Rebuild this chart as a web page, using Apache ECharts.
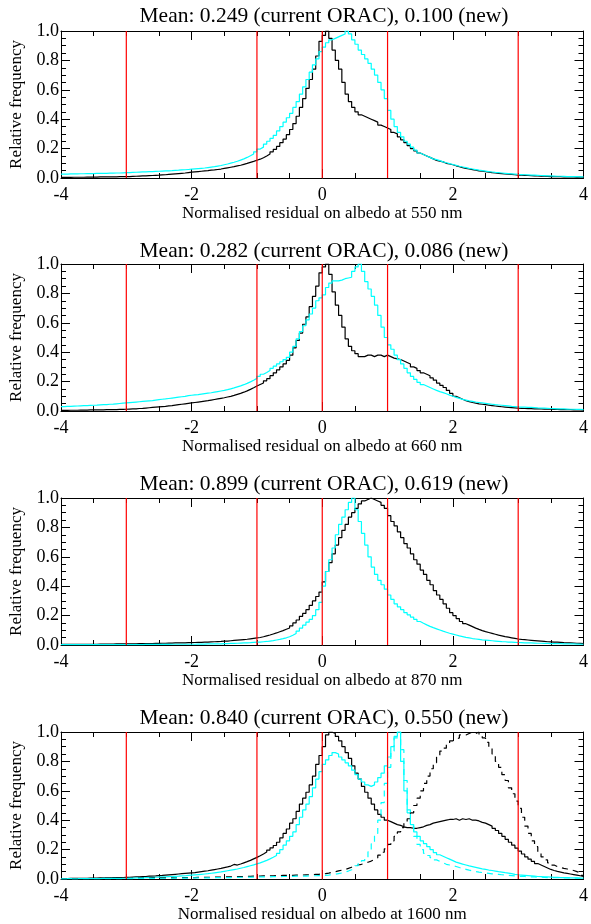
<!DOCTYPE html>
<html>
<head>
<meta charset="utf-8">
<script src="https://cdn.jsdelivr.net/npm/echarts@6/dist/echarts.min.js"></script>
<style>
  html, body { margin: 0; background: #fff; }
  #chart { width: 591px; height: 924px; }
</style>
</head>
<body>
<div id="chart"></div>
<script>
// histogram bins: 160 bins of 0.05 from -4 to 4
var binLo = -4, binW = 0.05;
var refLines = [-3, -1, 0, 1, 3];
var wavelengths = [550, 660, 870, 1600];
var meanCur = ['0.249', '0.282', '0.899', '0.840'];
var meanNew = ['0.100', '0.086', '0.619', '0.550'];

// 550 nm
var cur550 = [
  0.004,0.004,0.004,0.005,0.005,0.005,0.005,0.006,0.006,0.006,0.006,0.007,0.007,0.007,0.008,0.008,0.008,0.009,0.009,0.010,
  0.010,0.011,0.012,0.013,0.014,0.015,0.016,0.017,0.018,0.019,0.021,0.022,0.024,0.026,0.028,0.030,0.032,0.034,0.037,0.040,
  0.042,0.044,0.046,0.048,0.050,0.053,0.055,0.058,0.061,0.065,0.069,0.073,0.077,0.082,0.087,0.093,0.099,0.106,0.113,0.121,
  0.128,0.138,0.150,0.163,0.178,0.195,0.215,0.240,0.265,0.295,
  0.33,0.37,0.42,0.48,0.54,0.61,0.67,0.74,0.83,0.93,
  0.97,1.00,0.95,0.87,0.80,0.74,0.65,0.57,0.52,0.48,
  0.45,0.43,0.42,0.41,0.40,0.39,0.38,0.36,0.35,0.34,
  0.33,0.31,0.30,0.28,0.26,0.24,0.22,0.20,0.185,0.17,
  0.16,0.15,0.14,0.13,0.12,0.115,0.11,0.10,0.095,0.09,
  0.083,0.077,0.071,0.066,0.061,0.057,0.053,0.049,0.046,0.043,
  0.040,0.037,0.035,0.032,0.030,0.028,0.026,0.024,0.022,0.020,
  0.019,0.018,0.017,0.016,0.015,0.014,0.013,0.012,0.011,0.010,
  0.010,0.009,0.009,0.008,0.008,0.007,0.007,0.006,0.006,0.005
];
var new550 = [
  0.027,0.027,0.028,0.028,0.028,0.029,0.029,0.030,0.030,0.030,0.031,0.031,0.032,0.032,0.033,0.033,0.034,0.034,0.035,0.036,
  0.037,0.038,0.039,0.040,0.041,0.042,0.043,0.044,0.045,0.046,0.047,0.048,0.049,0.050,0.052,0.053,0.055,0.056,0.058,0.060,
  0.062,0.064,0.066,0.068,0.071,0.074,0.077,0.081,0.085,0.090,0.095,0.101,0.107,0.114,0.122,0.130,0.140,0.151,0.163,0.178,
  0.197,0.21,0.23,0.25,0.27,0.29,0.32,0.35,0.38,0.41,
  0.44,0.48,0.52,0.57,0.62,0.67,0.72,0.77,0.81,0.86,
  0.89,0.92,0.94,0.95,0.96,0.97,0.98,1.00,0.98,0.94,
  0.91,0.87,0.84,0.81,0.78,0.74,0.70,0.65,0.60,0.54,
  0.46,0.40,0.35,0.31,0.28,0.25,0.23,0.21,0.19,0.17,
  0.16,0.15,0.14,0.13,0.125,0.118,0.11,0.104,0.098,0.092,
  0.086,0.080,0.075,0.070,0.065,0.061,0.057,0.053,0.050,0.047,
  0.044,0.041,0.038,0.036,0.034,0.032,0.030,0.028,0.026,0.024,
  0.023,0.022,0.021,0.020,0.019,0.018,0.017,0.016,0.015,0.014,
  0.013,0.012,0.012,0.011,0.010,0.010,0.009,0.009,0.008,0.008
];

// 660 nm
var cur660 = [
  0.004,0.004,0.005,0.005,0.005,0.006,0.006,0.006,0.007,0.007,0.007,0.008,0.008,0.009,0.009,0.010,0.010,0.011,0.011,0.012,
  0.013,0.014,0.015,0.017,0.018,0.020,0.022,0.024,0.026,0.028,0.030,0.032,0.035,0.037,0.040,0.043,0.046,0.049,0.052,0.055,
  0.058,0.061,0.064,0.067,0.070,0.074,0.078,0.082,0.086,0.090,0.095,0.100,0.106,0.113,0.120,0.128,0.137,0.147,0.158,0.170,
  0.18,0.19,0.205,0.22,0.24,0.26,0.28,0.30,0.32,0.345,
  0.38,0.43,0.48,0.53,0.59,0.64,0.71,0.78,0.85,0.94,
  0.98,1.00,0.93,0.81,0.72,0.65,0.57,0.49,0.44,0.41,
  0.39,0.37,0.37,0.38,0.38,0.37,0.38,0.38,0.37,0.38,
  0.37,0.36,0.355,0.35,0.34,0.33,0.32,0.30,0.29,0.275,
  0.26,0.25,0.24,0.225,0.21,0.19,0.175,0.16,0.14,0.12,
  0.10,0.09,0.08,0.07,0.064,0.058,0.053,0.049,0.046,0.043,
  0.040,0.037,0.034,0.031,0.029,0.027,0.025,0.023,0.021,0.019,
  0.018,0.017,0.016,0.016,0.015,0.014,0.014,0.013,0.013,0.012,
  0.011,0.011,0.010,0.010,0.009,0.009,0.008,0.008,0.007,0.006
];
var new660 = [
  0.030,0.031,0.032,0.033,0.034,0.035,0.036,0.037,0.038,0.039,0.040,0.042,0.043,0.044,0.046,0.047,0.049,0.051,0.053,0.055,
  0.057,0.059,0.061,0.063,0.065,0.067,0.069,0.071,0.074,0.077,0.080,0.082,0.085,0.088,0.091,0.094,0.097,0.100,0.104,0.107,
  0.110,0.112,0.115,0.118,0.121,0.124,0.128,0.132,0.136,0.140,0.145,0.151,0.157,0.164,0.171,0.179,0.188,0.198,0.209,0.222,
  0.236,0.25,0.262,0.275,0.29,0.305,0.32,0.335,0.35,0.365,
  0.40,0.44,0.49,0.54,0.58,0.62,0.66,0.70,0.75,0.77,
  0.79,0.84,0.87,0.885,0.885,0.89,0.90,0.905,0.91,0.95,
  0.98,1.00,0.95,0.88,0.83,0.78,0.72,0.65,0.57,0.50,
  0.45,0.42,0.38,0.35,0.32,0.29,0.26,0.235,0.215,0.195,
  0.18,0.17,0.16,0.15,0.14,0.132,0.125,0.117,0.108,0.10,
  0.093,0.086,0.079,0.074,0.069,0.065,0.061,0.058,0.055,0.052,
  0.049,0.046,0.043,0.041,0.039,0.037,0.035,0.032,0.030,0.028,
  0.027,0.026,0.025,0.024,0.023,0.021,0.020,0.019,0.018,0.017,
  0.016,0.015,0.014,0.014,0.013,0.012,0.012,0.011,0.011,0.010
];

// 870 nm
var cur870 = [
  0.004,0.004,0.004,0.004,0.004,0.005,0.005,0.005,0.005,0.005,0.005,0.006,0.006,0.006,0.006,0.006,0.007,0.007,0.007,0.007,
  0.008,0.008,0.008,0.009,0.009,0.009,0.010,0.010,0.011,0.011,0.012,0.012,0.013,0.013,0.014,0.014,0.015,0.015,0.016,0.016,
  0.017,0.018,0.018,0.019,0.020,0.021,0.022,0.023,0.024,0.026,0.027,0.029,0.031,0.033,0.035,0.037,0.039,0.042,0.045,0.048,
  0.051,0.056,0.062,0.068,0.075,0.082,0.090,0.098,0.107,0.116,
  0.13,0.15,0.17,0.195,0.215,0.24,0.27,0.30,0.33,0.36,
  0.43,0.50,0.56,0.62,0.68,0.73,0.78,0.82,0.87,0.90,
  0.93,0.96,0.98,0.99,1.00,0.99,0.98,0.97,0.95,0.93,
  0.88,0.84,0.81,0.77,0.73,0.69,0.66,0.62,0.58,0.55,
  0.51,0.48,0.44,0.41,0.37,0.34,0.31,0.28,0.25,0.22,
  0.20,0.18,0.16,0.145,0.135,0.125,0.115,0.106,0.098,0.091,
  0.085,0.079,0.073,0.067,0.062,0.057,0.053,0.049,0.045,0.041,
  0.038,0.036,0.034,0.032,0.030,0.028,0.026,0.024,0.022,0.021,
  0.020,0.019,0.018,0.016,0.015,0.014,0.013,0.012,0.011,0.010
];
var new870 = [
  0.002,0.002,0.002,0.002,0.002,0.002,0.002,0.002,0.002,0.002,0.003,0.003,0.003,0.003,0.003,0.003,0.003,0.003,0.003,0.003,
  0.003,0.003,0.003,0.003,0.003,0.004,0.004,0.004,0.004,0.004,0.004,0.004,0.004,0.005,0.005,0.005,0.005,0.005,0.005,0.005,
  0.005,0.006,0.006,0.006,0.007,0.007,0.007,0.008,0.008,0.009,0.010,0.011,0.011,0.012,0.013,0.014,0.015,0.016,0.018,0.019,
  0.020,0.022,0.024,0.027,0.030,0.034,0.038,0.043,0.049,0.056,
  0.066,0.078,0.095,0.115,0.135,0.155,0.175,0.20,0.24,0.29,
  0.40,0.50,0.58,0.66,0.75,0.82,0.87,0.92,0.97,1.00,
  0.92,0.84,0.76,0.68,0.60,0.53,0.48,0.44,0.41,0.38,
  0.34,0.31,0.28,0.26,0.24,0.22,0.205,0.19,0.175,0.16,
  0.148,0.137,0.127,0.118,0.110,0.102,0.094,0.087,0.080,0.074,
  0.068,0.062,0.057,0.052,0.048,0.044,0.041,0.038,0.035,0.033,
  0.031,0.029,0.027,0.025,0.023,0.022,0.020,0.019,0.018,0.017,
  0.016,0.015,0.014,0.014,0.013,0.012,0.012,0.011,0.011,0.010,
  0.010,0.009,0.009,0.008,0.008,0.007,0.007,0.006,0.006,0.005
];

// 1600 nm (solid)
var cur1600 = [
  0.003,0.003,0.004,0.004,0.004,0.005,0.005,0.005,0.006,0.006,0.006,0.007,0.007,0.008,0.008,0.009,0.009,0.010,0.010,0.011,
  0.012,0.013,0.014,0.015,0.016,0.017,0.019,0.020,0.021,0.023,0.024,0.026,0.028,0.030,0.032,0.034,0.036,0.038,0.040,0.042,
  0.044,0.047,0.050,0.053,0.056,0.060,0.064,0.068,0.072,0.077,0.082,0.088,0.099,0.095,0.102,0.110,0.118,0.127,0.137,0.147,
  0.158,0.170,0.183,0.197,0.212,0.228,0.25,0.28,0.31,0.34,
  0.38,0.41,0.46,0.51,0.55,0.59,0.64,0.70,0.78,0.84,
  0.90,0.98,1.00,0.99,0.97,0.94,0.90,0.86,0.82,0.77,
  0.72,0.68,0.63,0.59,0.55,0.51,0.47,0.44,0.42,0.40,
  0.39,0.38,0.37,0.365,0.355,0.35,0.35,0.345,0.345,0.35,
  0.355,0.365,0.37,0.38,0.385,0.39,0.395,0.40,0.405,0.405,
  0.41,0.40,0.41,0.405,0.41,0.40,0.40,0.395,0.385,0.38,
  0.37,0.36,0.345,0.33,0.31,0.29,0.27,0.25,0.23,0.21,
  0.19,0.17,0.15,0.135,0.12,0.105,0.095,0.085,0.075,0.065,
  0.058,0.052,0.047,0.042,0.038,0.034,0.030,0.026,0.022,0.018
];
var new1600 = [
  0.002,0.002,0.002,0.002,0.002,0.002,0.003,0.003,0.003,0.003,0.003,0.003,0.004,0.004,0.004,0.004,0.004,0.005,0.005,0.005,
  0.006,0.006,0.007,0.008,0.008,0.009,0.010,0.011,0.012,0.013,0.014,0.015,0.016,0.017,0.018,0.019,0.021,0.022,0.024,0.026,
  0.028,0.030,0.032,0.034,0.036,0.039,0.042,0.045,0.048,0.052,0.056,0.060,0.064,0.068,0.073,0.078,0.084,0.090,0.096,0.103,
  0.11,0.118,0.127,0.137,0.148,0.160,0.175,0.20,0.23,0.26,
  0.29,0.32,0.37,0.42,0.47,0.51,0.56,0.62,0.68,0.73,
  0.78,0.81,0.84,0.86,0.85,0.83,0.81,0.79,0.77,0.74,
  0.71,0.68,0.66,0.64,0.63,0.64,0.66,0.69,0.72,0.77,
  0.83,0.90,0.97,1.00,0.80,0.60,0.45,0.37,0.32,0.29,
  0.26,0.24,0.22,0.20,0.18,0.165,0.155,0.145,0.135,0.125,
  0.115,0.108,0.101,0.095,0.089,0.084,0.079,0.074,0.069,0.065,
  0.061,0.058,0.054,0.050,0.047,0.043,0.040,0.036,0.032,0.029,
  0.027,0.025,0.023,0.021,0.019,0.017,0.016,0.015,0.014,0.013,
  0.012,0.011,0.010,0.009,0.009,0.008,0.007,0.007,0.006,0.006
];
// 1600 nm (dashed)
var cur1600b = [
  0.002,0.002,0.002,0.002,0.002,0.003,0.003,0.003,0.003,0.003,0.003,0.003,0.004,0.004,0.004,0.004,0.004,0.004,0.005,0.005,
  0.005,0.005,0.005,0.006,0.006,0.006,0.006,0.007,0.007,0.007,0.007,0.008,0.008,0.008,0.008,0.009,0.009,0.009,0.010,0.010,
  0.010,0.011,0.011,0.011,0.012,0.012,0.012,0.013,0.013,0.014,0.014,0.015,0.015,0.016,0.016,0.017,0.017,0.018,0.019,0.020,
  0.020,0.021,0.021,0.022,0.022,0.023,0.023,0.024,0.024,0.025,
  0.025,0.026,0.026,0.027,0.028,0.029,0.030,0.031,0.032,0.034,
  0.036,0.040,0.045,0.050,0.055,0.060,0.065,0.072,0.080,0.088,
  0.095,0.100,0.107,0.114,0.122,0.132,0.145,0.162,0.182,0.205,
  0.235,0.26,0.29,0.32,0.35,0.38,0.41,0.45,0.50,0.55,
  0.60,0.65,0.70,0.75,0.79,0.83,0.87,0.89,0.92,0.94,
  0.95,0.96,0.98,0.98,0.99,1.00,0.99,1.00,0.98,0.96,
  0.93,0.89,0.85,0.80,0.76,0.71,0.67,0.62,0.58,0.53,
  0.48,0.42,0.36,0.31,0.26,0.22,0.18,0.15,0.13,0.11,
  0.095,0.085,0.078,0.072,0.068,0.064,0.058,0.050,0.040,0.025
];
var new1600b = [
  0.001,0.001,0.001,0.001,0.001,0.002,0.002,0.002,0.002,0.002,0.002,0.002,0.002,0.002,0.003,0.003,0.003,0.003,0.003,0.003,
  0.003,0.003,0.003,0.004,0.004,0.004,0.004,0.004,0.004,0.005,0.005,0.005,0.005,0.005,0.006,0.006,0.006,0.006,0.006,0.007,
  0.007,0.007,0.007,0.008,0.008,0.008,0.009,0.009,0.009,0.010,0.010,0.010,0.011,0.011,0.012,0.012,0.012,0.013,0.013,0.014,
  0.014,0.014,0.015,0.015,0.016,0.016,0.016,0.017,0.017,0.018,
  0.018,0.019,0.019,0.020,0.020,0.021,0.022,0.022,0.023,0.024,
  0.025,0.027,0.030,0.033,0.037,0.041,0.047,0.054,0.063,0.075,
  0.09,0.105,0.125,0.15,0.185,0.24,0.31,0.40,0.52,0.65,
  0.76,0.87,0.96,1.00,0.88,0.67,0.47,0.36,0.29,0.235,
  0.20,0.175,0.16,0.145,0.13,0.12,0.11,0.10,0.095,0.09,
  0.085,0.078,0.072,0.066,0.060,0.055,0.051,0.047,0.044,0.041,
  0.038,0.035,0.033,0.031,0.029,0.027,0.025,0.023,0.021,0.019,
  0.018,0.017,0.016,0.015,0.014,0.013,0.012,0.011,0.010,0.010,
  0.009,0.009,0.008,0.008,0.007,0.007,0.006,0.006,0.005,0.005
];

var curSets = [cur550, cur660, cur870, cur1600];
var newSets = [new550, new660, new870, new1600];

var FONT = 'Liberation Serif';
var gridTop = [31, 264, 498, 732];
var titleTop = [5, 240, 473, 707];

// bin values -> step points (left edges + closing point at right edge)
function steps(vals) {
  var pts = vals.map(function (v, i) { return [binLo + i * binW, v]; });
  pts.push([binLo + vals.length * binW, vals[vals.length - 1]]);
  return pts;
}

function histLine(vals, color, k, dashed) {
  return {
    type: 'line', step: 'end', symbol: 'none', silent: true,
    xAxisIndex: 2 * k, yAxisIndex: 2 * k,
    lineStyle: { color: color, width: 1.2, type: dashed ? [6, 5] : 'solid' },
    data: steps(vals)
  };
}

var black = '#000000', cyan = '#00ffff', red = '#ff0000';
var tickStyle = { color: '#000', width: 1 };

function xAx(k, top) {
  return {
    gridIndex: k, type: 'value', min: -4, max: 4, interval: 2,
    position: top ? 'top' : 'bottom',
    axisLine: { show: true, onZero: false, lineStyle: tickStyle },
    axisTick: { show: true, inside: true, length: 9, lineStyle: tickStyle },
    minorTick: { show: true, splitNumber: 4, length: 5, lineStyle: tickStyle },
    splitLine: { show: false },
    axisLabel: { show: !top, color: '#000', fontFamily: FONT, fontSize: 18, margin: 8 },
    name: top ? '' : 'Normalised residual on albedo at ' + wavelengths[k] + ' nm',
    nameLocation: 'middle', nameGap: 27,
    nameTextStyle: { color: '#000', fontFamily: FONT, fontSize: 17 }
  };
}
function yAx(k, right) {
  return {
    gridIndex: k, type: 'value', min: 0, max: 1, interval: 0.2,
    position: right ? 'right' : 'left',
    axisLine: { show: true, onZero: false, lineStyle: tickStyle },
    axisTick: { show: true, inside: true, length: 9, lineStyle: tickStyle },
    minorTick: { show: true, splitNumber: 4, length: 5, lineStyle: tickStyle },
    splitLine: { show: false },
    axisLabel: { show: !right, color: '#000', fontFamily: FONT, fontSize: 18, margin: 2,
      formatter: function (v) { return v.toFixed(1); } },
    name: right ? '' : 'Relative frequency',
    nameLocation: 'middle', nameGap: 36,
    nameTextStyle: { color: '#000', fontFamily: FONT, fontSize: 17 }
  };
}

var option = { animation: false, backgroundColor: '#fff', title: [], grid: [], xAxis: [], yAxis: [], series: [] };

wavelengths.forEach(function (wl, k) {
  option.grid.push({ left: 61, right: 3, top: gridTop[k], height: 147 });
  option.title.push({
    text: 'Mean: ' + meanCur[k] + ' (current ORAC), ' + meanNew[k] + ' (new)',
    left: 324, top: titleTop[k], textAlign: 'center', padding: 0,
    textStyle: { fontFamily: FONT, fontSize: 21.5, fontWeight: 'normal', color: '#000' }
  });
  option.xAxis.push(xAx(k, false), xAx(k, true));
  option.yAxis.push(yAx(k, false), yAx(k, true));

  option.series.push(histLine(curSets[k], black, k, false));
  option.series.push(histLine(newSets[k], cyan, k, false));
  if (wl === 1600) {
    option.series.push(histLine(cur1600b, black, k, true));
    option.series.push(histLine(new1600b, cyan, k, true));
  }
  // red reference lines at fixed residual values
  refLines.forEach(function (v) {
    option.series.push({
      type: 'line', symbol: 'none', silent: true,
      xAxisIndex: 2 * k, yAxisIndex: 2 * k,
      lineStyle: { color: red, width: 1.2 },
      data: [[v, 0], [v, 1]]
    });
  });
});

var chart = echarts.init(document.getElementById('chart'));
chart.setOption(option);
</script>
</body>
</html>
